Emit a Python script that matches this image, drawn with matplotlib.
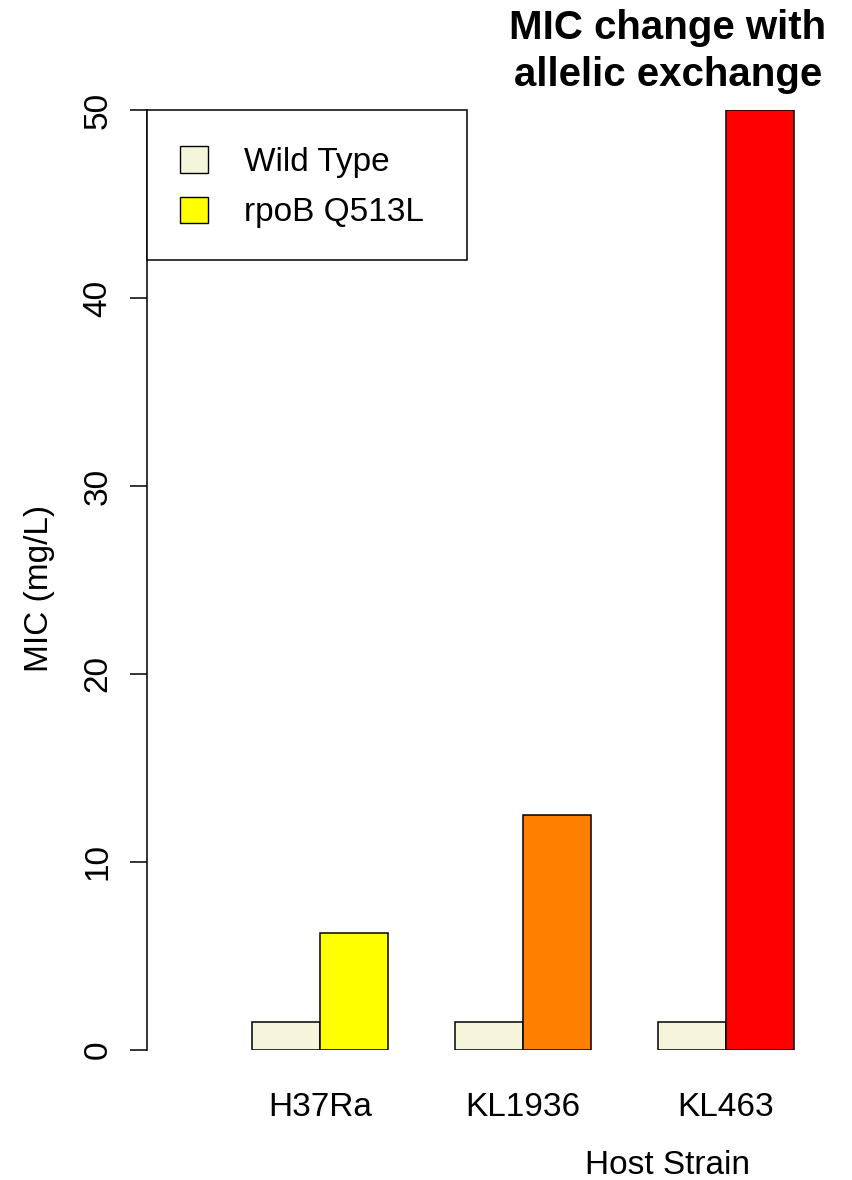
import numpy as np
import matplotlib.pyplot as plt
from matplotlib.patches import Rectangle, Patch

# data
strains = ['H37Ra', 'KL1936', 'KL463']
wild_type = [1.5, 1.5, 1.5]
mutant = [6.25, 12.5, 50]
mutant_colors = ['#FFFF00', '#FF8000', '#FF0000']
wt_color = '#F5F5DC'
y_ticks = [0, 10, 20, 30, 40, 50]

plt.rcParams['font.family'] = ['Liberation Sans', 'DejaVu Sans']

fig = plt.figure(figsize=(8.53, 11.8), dpi=100)
W, H = 853, 1180
ax = fig.add_axes([147 / W, (H - 1050) / H, (807 - 147) / W, (1050 - 110) / H])

x = np.arange(len(strains))
bw = 68 / 203
ax.bar(x - bw / 2, wild_type, width=bw, color=wt_color, edgecolor='black', linewidth=1.1)
ax.bar(x + bw / 2, mutant, width=bw, color=mutant_colors, edgecolor='black', linewidth=1.1)

ax.set_xlim(-0.852, 2.4)
ax.set_ylim(0, 50)
for s in ['top', 'right', 'bottom']:
    ax.spines[s].set_visible(False)
ax.spines['left'].set_linewidth(1.1)
ax.spines['left'].set_bounds(0, 50)

ax.set_yticks(y_ticks)
ax.set_yticklabels([str(t) for t in y_ticks], rotation=90, va='center', fontsize=24)
ax.tick_params(axis='y', length=12.2, width=1.1, pad=12)
ax.set_xticks(x)
ax.set_xticklabels(strains, fontsize=24)
ax.tick_params(axis='x', length=0, pad=30)

fig.text(40 / W, 1 - 588 / H, 'MIC (mg/L)', rotation=90, ha='center', va='center', fontsize=24)
fig.text(668 / W, 1 - 1166 / H, 'Host Strain', ha='center', va='center', fontsize=24)
fig.text(668 / W, 1 - 28 / H, 'MIC change with', ha='center', va='center',
         fontsize=29, fontweight='bold')
fig.text(668 / W, 1 - 75 / H, 'allelic exchange', ha='center', va='center',
         fontsize=29, fontweight='bold')

# legend box
fig.patches.append(Rectangle((147 / W, 1 - 260 / H), (467 - 147) / W, 150 / H,
                             transform=fig.transFigure, facecolor='white',
                             edgecolor='black', linewidth=1.1, zorder=3))
handles = [Patch(facecolor=wt_color, edgecolor='black', label='Wild Type'),
           Patch(facecolor='#FFFF00', edgecolor='black', label='rpoB Q513L')]
leg = fig.legend(handles=handles, loc='upper left', bbox_to_anchor=(180 / W, 1 - 146 / H),
                 frameon=False, fontsize=24, handlelength=0.85, handleheight=0.85,
                 handletextpad=1.06, labelspacing=0.56, borderpad=0, borderaxespad=0)
leg.set_zorder(4)

fig.savefig('out.png', dpi=100)
